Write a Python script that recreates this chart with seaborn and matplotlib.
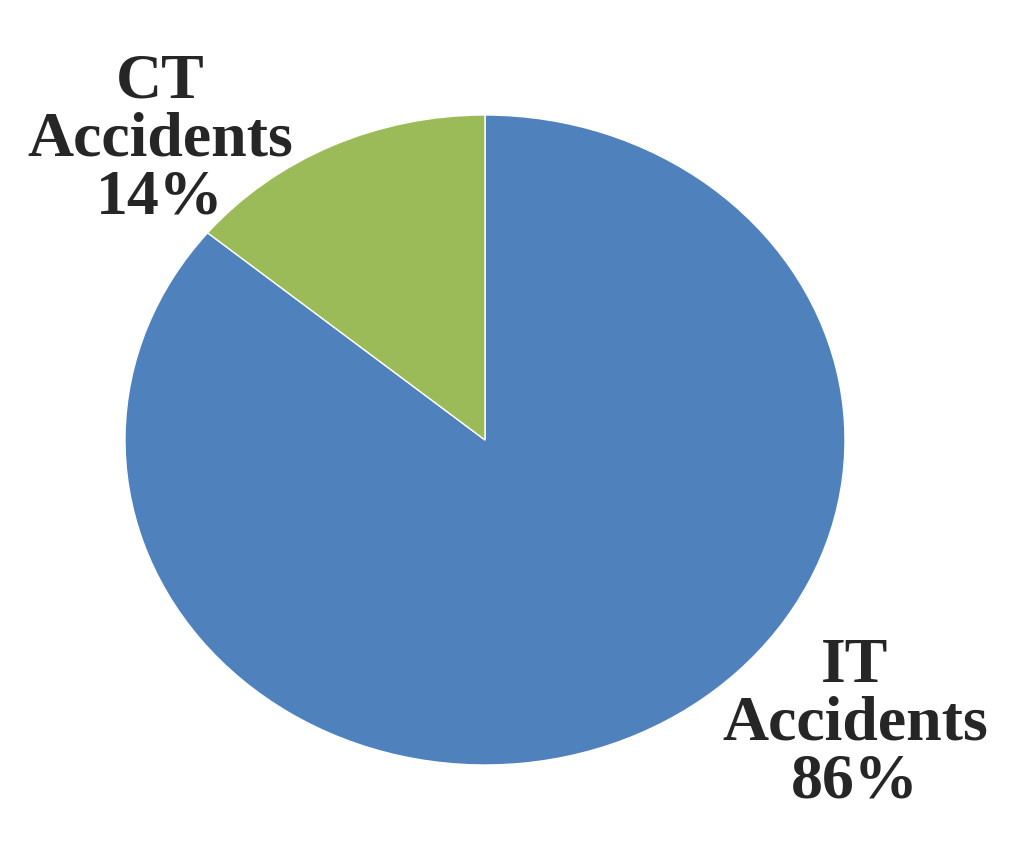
import matplotlib
matplotlib.use("Agg")
import matplotlib.pyplot as plt
import seaborn as sns

sns.set_style("white")
plt.rcParams['font.family'] = ['Liberation Serif', 'DejaVu Serif']

labels = ['IT\nAccidents', 'CT\nAccidents']
shares = [86, 14]
colors = ['#4F81BD', '#9BBB59']

fig = plt.figure(figsize=(10.24, 8.56), dpi=100)
ax = fig.add_axes([0, 0, 1, 1])
ax.pie(shares, colors=colors, startangle=90, counterclock=False,
       wedgeprops=dict(edgecolor='white', linewidth=1))
ax.set_aspect('auto')
# pie is slightly wider than tall in the reference
ax.set_xlim(-485 / 360, (1024 - 485) / 360)
ax.set_ylim(-416 / 325, 440 / 325)
ax.axis('off')

fig.text(160 / 1024, 1 - 140 / 856, f'{labels[1]}\n{shares[1]}%', ha='center', va='center',
         fontsize=46, fontweight='bold', linespacing=1.0)
fig.text(855 / 1024, 1 - 725 / 856, f'{labels[0]}\n{shares[0]}%', ha='center', va='center',
         fontsize=46, fontweight='bold', linespacing=1.0)

fig.savefig('out.png', dpi=100)
